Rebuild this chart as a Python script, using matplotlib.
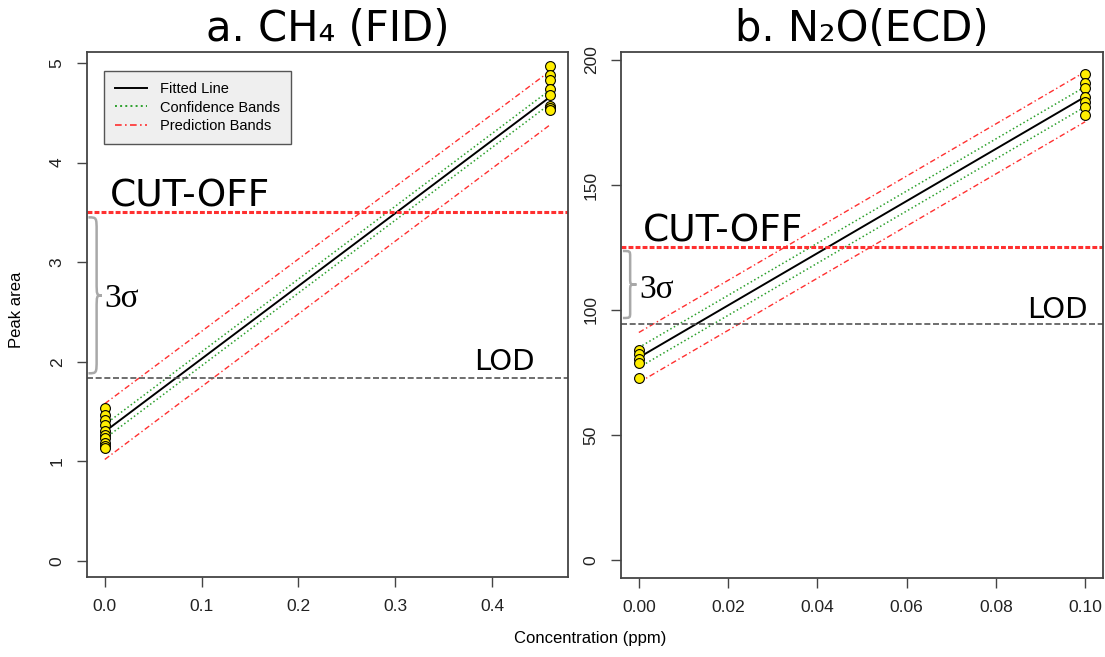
import matplotlib.pyplot as plt
import matplotlib.transforms as mtransforms
from matplotlib.path import Path
from matplotlib.patches import PathPatch
from matplotlib.lines import Line2D

# panel a: CH4 (FID)
ch4_x0 = [0.0] * 10
ch4_y0 = [1.54, 1.47, 1.42, 1.37, 1.31, 1.27, 1.24, 1.19, 1.16, 1.13]
ch4_x1 = [0.46] * 8
ch4_y1 = [4.97, 4.88, 4.83, 4.74, 4.68, 4.57, 4.55, 4.53]
ch4_ends = [0.0, 0.46]
ch4_fit = [1.30, 4.66]
ch4_conf_lo = [1.23, 4.59]
ch4_conf_hi = [1.37, 4.73]
ch4_pred_lo = [1.02, 4.38]
ch4_pred_hi = [1.58, 4.92]
ch4_cutoff = 3.5
ch4_lod = 1.835

# panel b: N2O (ECD)
n2o_x0 = [0.0] * 5
n2o_y0 = [84.0, 82.3, 80.3, 78.7, 72.7]
n2o_x1 = [0.10] * 7
n2o_y1 = [194.3, 190.7, 188.7, 185.3, 183.3, 181.3, 178.0]
n2o_ends = [0.0, 0.10]
n2o_fit = [81.0, 185.3]
n2o_conf_lo = [77.0, 181.3]
n2o_conf_hi = [85.0, 189.3]
n2o_pred_lo = [71.0, 175.3]
n2o_pred_hi = [91.0, 195.3]
n2o_cutoff = 125
n2o_lod = 94.4

GREEN = '#2ca02c'
RED = '#ff3030'
PRED_LS = (0, (4, 2, 1, 2))
EDGE = '#444444'


def brace(ax, x0, xm, xt, yt, yb):
    tr = mtransforms.blended_transform_factory(ax.transAxes, ax.transData)
    r = 0.09 * (yt - yb)
    ym = (yt + yb) / 2
    verts = [(x0, yt), (xm, yt), (xm, yt), (xm, yt - r),
             (xm, ym + r),
             (xm, ym), (xm, ym), (xt, ym),
             (xm, ym), (xm, ym), (xm, ym - r),
             (xm, yb + r),
             (xm, yb), (xm, yb), (x0, yb)]
    codes = [Path.MOVETO, Path.CURVE4, Path.CURVE4, Path.CURVE4,
             Path.LINETO,
             Path.CURVE4, Path.CURVE4, Path.CURVE4,
             Path.CURVE4, Path.CURVE4, Path.CURVE4,
             Path.LINETO,
             Path.CURVE4, Path.CURVE4, Path.CURVE4]
    ax.add_patch(PathPatch(Path(verts, codes), transform=tr, fill=False,
                           edgecolor='#a8a8a8', lw=1.8, clip_on=False))


def panel(ax, xs0, ys0, xs1, ys1, ends, fit, clo, chi, plo, phi, cut, lod,
          xlim, ylim, xticks, yticks, xfmt, title, cut_y, lod_y, sig_y, brace_x, lod_x):
    ax.plot(ends, fit, color='black', lw=1.4)
    ax.plot(ends, clo, color=GREEN, lw=1.1, ls=':')
    ax.plot(ends, chi, color=GREEN, lw=1.1, ls=':')
    ax.plot(ends, plo, color=RED, lw=1.0, ls=PRED_LS)
    ax.plot(ends, phi, color=RED, lw=1.0, ls=PRED_LS)
    ax.scatter(xs0 + xs1, ys0 + ys1, s=50, facecolor='#ffee00',
               edgecolor='black', lw=0.8, zorder=3)
    ax.axhline(cut, color=RED, lw=2.2, ls=(0, (1.6, 0.7)))
    ax.axhline(lod, color='#555555', lw=1.2, ls=(0, (3.6, 1.6)))
    tr = mtransforms.blended_transform_factory(ax.transAxes, ax.transData)
    ax.text(brace_x[3], cut_y, 'CUT-OFF', transform=tr, fontsize=27,
            family='DejaVu Sans', va='baseline', ha='left')
    ax.text(lod_x, lod_y, 'LOD', transform=tr, fontsize=21,
            family='DejaVu Sans', va='baseline', ha='right')
    ax.text(brace_x[4], sig_y, '3σ', transform=tr, fontsize=24,
            family='Liberation Serif', va='baseline', ha='left')
    brace(ax, brace_x[0], brace_x[1], brace_x[2], brace_x[5], brace_x[6])
    ax.set_xlim(*xlim)
    ax.set_ylim(*ylim)
    ax.set_xticks(xticks)
    ax.set_xticklabels([xfmt.format(v) for v in xticks])
    ax.set_yticks(yticks)
    ax.set_yticklabels([str(v) for v in yticks], rotation=90, va='center')
    ax.tick_params(length=7, width=1, color=EDGE, labelsize=12.5,
                   labelcolor='#222222', pad=9)
    for s in ax.spines.values():
        s.set_color(EDGE)
        s.set_linewidth(1.3)
    ax.set_title(title, fontsize=30, family='DejaVu Sans', pad=8)


plt.rcParams['font.family'] = ['Liberation Sans', 'DejaVu Sans']
fig = plt.figure(figsize=(11.05, 6.57), dpi=100)
ax1 = fig.add_axes([87 / 1105, 80 / 657, 481 / 1105, 525 / 657])
ax2 = fig.add_axes([621 / 1105, 79 / 657, 482 / 1105, 526 / 657])

panel(ax1, ch4_x0, ch4_y0, ch4_x1, ch4_y1, ch4_ends, ch4_fit, ch4_conf_lo,
      ch4_conf_hi, ch4_pred_lo, ch4_pred_hi, ch4_cutoff, ch4_lod,
      (-0.0184, 0.4784), (-0.16, 5.11), [0.0, 0.1, 0.2, 0.3, 0.4], [0, 1, 2, 3, 4, 5],
      '{:.1f}', 'a. CH₄ (FID)', 3.56, 1.915, 2.55,
      (0.003, 0.020, 0.031, 0.048, 0.035, 3.45, 1.885), 0.931)
panel(ax2, n2o_x0, n2o_y0, n2o_x1, n2o_y1, n2o_ends, n2o_fit, n2o_conf_lo,
      n2o_conf_hi, n2o_pred_lo, n2o_pred_hi, n2o_cutoff, n2o_lod,
      (-0.004, 0.104), (-7.2, 203.2), [0.00, 0.02, 0.04, 0.06, 0.08, 0.10],
      [0, 50, 100, 150, 200], '{:.2f}', 'b. N₂O(ECD)', 127.2, 96.8, 104.8,
      (0.004, 0.019, 0.032, 0.046, 0.039, 123.6, 96.8), 0.969)

handles = [Line2D([], [], color='black', lw=1.4),
           Line2D([], [], color=GREEN, lw=1.4, ls=':'),
           Line2D([], [], color=RED, lw=1.2, ls=PRED_LS)]
leg = ax1.legend(handles, ['Fitted Line', 'Confidence Bands', 'Prediction Bands'],
                 loc='upper left', bbox_to_anchor=(0.035, 0.964), borderaxespad=0,
                 fontsize=10.5, frameon=True, fancybox=False, framealpha=1,
                 facecolor='#efefef', edgecolor='#555555', handlelength=2.2,
                 handletextpad=0.9, labelspacing=0.32, borderpad=0.75)
leg.get_frame().set_linewidth(1.0)

fig.text(590 / 1105, (657 - 638) / 657, 'Concentration (ppm)', ha='center',
         va='center', fontsize=12)
fig.text(17 / 1105, (657 - 310) / 657, 'Peak area', ha='center', va='center',
         rotation=90, fontsize=12)

fig.savefig('out.png', dpi=100)
